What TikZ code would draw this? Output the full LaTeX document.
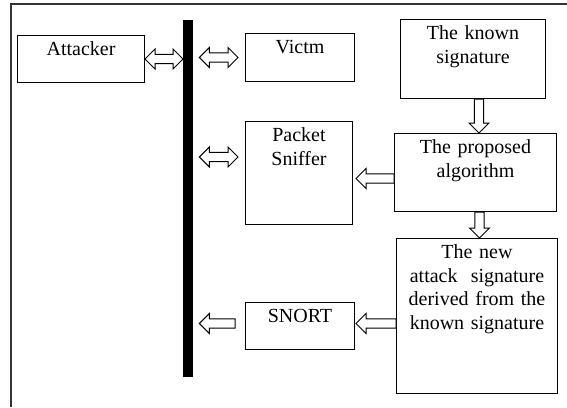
\documentclass[tikz,border=0pt]{standalone}
\usepackage{fontspec}
\setmainfont{Liberation Serif}
\usepackage{tikz}
\usetikzlibrary{calc,positioning}
\newcommand{\ashaft}{4.6pt}
\newcommand{\awing}{10pt}
\newcommand{\ahead}{10pt}
\tikzset{
  hostbox/.style={
    rectangle, draw=black, line width=1pt, fill=white,
    inner sep=0pt, align=center, anchor=north west,
    text height=20pt,
    font=\fontsize{20}{23.5}\selectfont
  },
  busbar/.style={
    rectangle, fill=black, inner sep=0pt, anchor=north west,
    minimum width=10pt
  },
  frameline/.style={line width=1.6pt, color=black!80},
  fatone/.style={
    draw=black, line width=1pt, fill=white,
    to path={let \p1=(\tikztostart), \p2=(\tikztotarget),
      \n1={atan2(\y2-\y1,\x2-\x1)} in
      ($(\p1)+(\n1+90:\ashaft)$)
      -- ($(\p2)+(\n1+180:\ahead)+(\n1+90:\ashaft)$)
      -- ($(\p2)+(\n1+180:\ahead)+(\n1+90:\awing)$)
      -- (\p2)
      -- ($(\p2)+(\n1+180:\ahead)+(\n1-90:\awing)$)
      -- ($(\p2)+(\n1+180:\ahead)+(\n1-90:\ashaft)$)
      -- ($(\p1)+(\n1-90:\ashaft)$) -- cycle}
  },
  fatboth/.style={
    draw=black, line width=1pt, fill=white,
    to path={let \p1=(\tikztostart), \p2=(\tikztotarget),
      \n1={atan2(\y2-\y1,\x2-\x1)} in
      ($(\p1)+(\n1:\ahead)+(\n1+90:\ashaft)$)
      -- ($(\p2)+(\n1+180:\ahead)+(\n1+90:\ashaft)$)
      -- ($(\p2)+(\n1+180:\ahead)+(\n1+90:\awing)$)
      -- (\p2)
      -- ($(\p2)+(\n1+180:\ahead)+(\n1-90:\awing)$)
      -- ($(\p2)+(\n1+180:\ahead)+(\n1-90:\ashaft)$)
      -- ($(\p1)+(\n1:\ahead)+(\n1-90:\ashaft)$)
      -- ($(\p1)+(\n1:\ahead)+(\n1-90:\awing)$)
      -- (\p1)
      -- ($(\p1)+(\n1:\ahead)+(\n1+90:\awing)$) -- cycle}
  },
}

\begin{document}
\begin{tikzpicture}[x=1pt, y=-1pt]
  \useasboundingbox (0,0) rectangle (567,407);
  \draw[frameline] (11,407) -- (11,4) -- (567,4);
  % left side: network line and hosts
  \node[busbar, minimum height=357pt] (bus) at (183,20) {};
  \node[hostbox, text width=127pt, text depth=27pt] (attacker) at (17,35) {Attacker};
  \node[hostbox, text width=109pt, text depth=28pt] (victim) at (245,33) {Victm};
  \node[hostbox, text width=107pt, text depth=83pt] (sniffer) at (245,121) {Packet\\Sniffer};
  \node[hostbox, text width=109pt, text depth=27pt] (snort) at (245,302) {SNORT};
  % right side: signature chain
  \node[hostbox, text width=145pt, text depth=59pt] (known) at (400,19) {The known\\signature};
  \node[hostbox, text width=162pt, text depth=58pt] (proposed) at (394,133) {The proposed\\algorithm};
  \node[hostbox, text width=161pt, text depth=135pt] (newsig) at (396,238)
    {The new\\attack~ signature\\derived from the\\known signature};
  % block arrows
  \draw[fatboth] (attacker.east) to (attacker.east -| bus.west);
  \draw[fatboth] ([xshift=6pt]bus.east |- victim.west) to ([xshift=-7pt]victim.west);
  \coordinate (snifin) at ([xshift=-7pt, yshift=16pt]sniffer.west);
  \draw[fatboth] ([xshift=6pt]bus.east |- snifin) to (snifin);
  \draw[fatone] ([xshift=6pt]known.south) to ([xshift=6pt]known.south |- proposed.north);
  \draw[fatone] ([yshift=-6pt]proposed.west) to ([xshift=3pt, yshift=-6pt]sniffer.east |- proposed.west);
  \draw[fatone] ([xshift=4pt]proposed.south) to ([xshift=4pt]proposed.south |- newsig.north);
  \draw[fatone] ([yshift=2.5pt]newsig.west |- snort.west) to ([xshift=1pt, yshift=2.5pt]snort.east);
  \draw[fatone] ([xshift=-10pt, yshift=2.5pt]snort.west) to ([xshift=6pt, yshift=2.5pt]bus.east |- snort.west);
\end{tikzpicture}
\end{document}
